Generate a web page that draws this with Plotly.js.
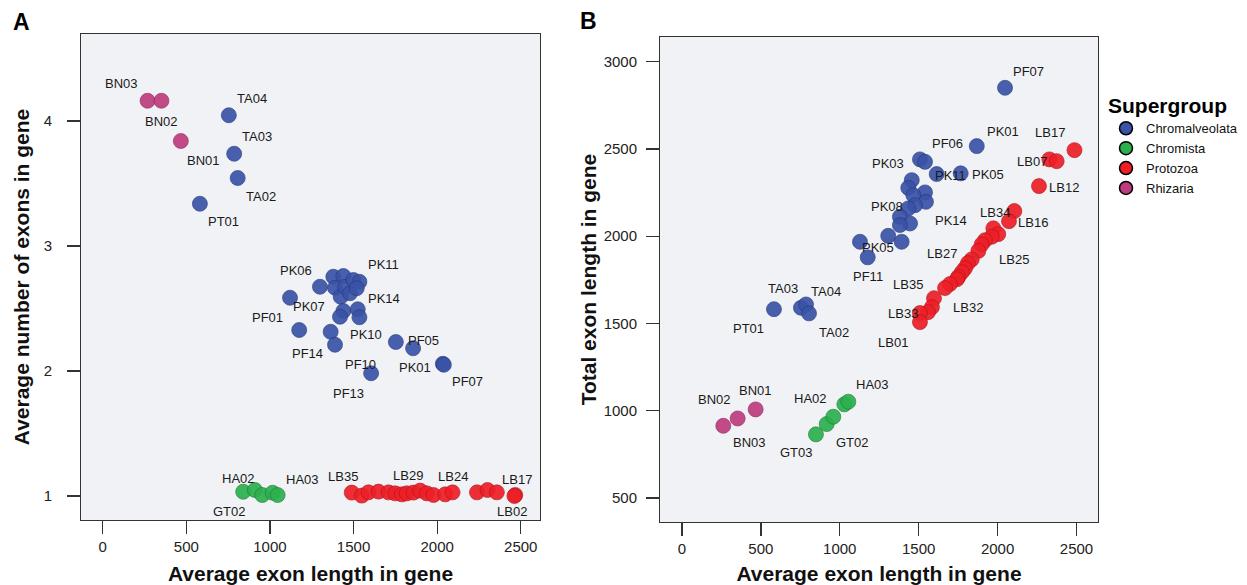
<!DOCTYPE html>
<html>
<head>
<meta charset="utf-8">
<script src="https://cdn.plot.ly/plotly-3.0.1.min.js"></script>
<style>html,body{margin:0;padding:0;background:#fff;}#chart{width:1247px;height:585px;}</style>
</head>
<body>
<div id="chart"></div>
<script>
// ---------------- DATA ----------------
var groups = ["Chromalveolata", "Chromista", "Protozoa", "Rhizaria"];
var xTickVals = [0, 500, 1000, 1500, 2000, 2500];
var yTickValsA = [1, 2, 3, 4];
var yTickValsB = [500, 1000, 1500, 2000, 2500, 3000];

// Panel A: average exon length vs average number of exons
var aChromalveolataX = [754, 786, 807, 581, 1120, 1175, 1299, 1363, 1389, 1379, 1439, 1389, 1423, 1449, 1479, 1499, 1535, 1519, 1439, 1419, 1525, 1535, 1753, 1856, 2034, 2040, 1605];
var aChromalveolataY = [4.046, 3.738, 3.544, 3.338, 2.586, 2.328, 2.674, 2.314, 2.210, 2.754, 2.760, 2.666, 2.594, 2.674, 2.622, 2.728, 2.714, 2.662, 2.480, 2.434, 2.494, 2.430, 2.232, 2.182, 2.058, 2.050, 1.982];
var aChromalveolataNames = ["TA04", "TA03", "TA02", "PT01", "PF01", "PF14", "PK06", "", "", "", "", "PK07", "", "", "", "", "PK11", "", "", "", "PK14", "PK10", "PF10", "PF05", "PK01", "PF07", "PF13"];

var aChromistaX = [840, 910, 954, 1016, 1046];
var aChromistaY = [1.034, 1.048, 1.008, 1.026, 1.008];
var aChromistaNames = ["HA02", "GT02", "", "", "HA03"];

var aProtozoaX = [1489, 1549, 1589, 1649, 1709, 1749, 1789, 1818, 1858, 1898, 1938, 1978, 2048, 2092, 2238, 2301, 2357, 2467, 2462];
var aProtozoaY = [1.027, 1.003, 1.029, 1.035, 1.029, 1.021, 1.013, 1.021, 1.027, 1.043, 1.021, 1.008, 1.013, 1.029, 1.029, 1.048, 1.029, 1.008, 1.000];
var aProtozoaNames = ["LB35", "", "", "", "", "", "", "", "", "LB29", "", "", "", "LB24", "", "", "", "LB17", "LB02"];

var aRhizariaX = [268, 351, 467];
var aRhizariaY = [4.162, 4.162, 3.840];
var aRhizariaNames = ["BN03", "BN02", "BN01"];

// Panel B: average exon length vs total exon length
var bChromalveolataX = [2047, 1868, 1508, 1540, 1614, 1766, 1456, 1434, 1540, 1466, 1546, 1477, 1434, 1381, 1445, 1381, 1307, 1392, 1128, 1177, 583, 754, 786, 805];
var bChromalveolataY = [2850, 2516, 2440, 2426, 2356, 2360, 2321, 2277, 2251, 2235, 2197, 2178, 2159, 2111, 2073, 2064, 2002, 1968, 1968, 1879, 1582, 1590, 1609, 1558];
var bChromalveolataNames = ["PF07", "PK01", "PK03", "PF06", "PK11", "PK05", "", "", "", "", "PK14", "", "PK08", "", "", "", "", "", "PK05", "PF11", "PT01", "TA03", "TA04", "TA02"];

var bChromistaX = [849, 917, 959, 1029, 1054];
var bChromistaY = [865, 924, 966, 1037, 1052];
var bChromistaNames = ["GT03", "GT02", "HA02", "", "HA03"];

var bProtozoaX = [2487, 2328, 2374, 2262, 2106, 2072, 1973, 2004, 1963, 1920, 1899, 1878, 1836, 1812, 1793, 1774, 1751, 1743, 1698, 1667, 1597, 1584, 1559, 1508, 1508];
var bProtozoaY = [2493, 2440, 2430, 2287, 2144, 2086, 2045, 2012, 1997, 1977, 1953, 1916, 1867, 1846, 1816, 1794, 1767, 1754, 1726, 1703, 1645, 1594, 1565, 1560, 1508];
var bProtozoaNames = ["LB17", "LB07", "", "LB12", "LB34", "LB16", "", "", "LB25", "", "", "", "", "", "LB27", "", "", "", "", "LB32", "LB35", "", "", "LB33", "LB01"];

var bRhizariaX = [262, 353, 467];
var bRhizariaY = [914, 956, 1008];
var bRhizariaNames = ["BN02", "BN03", "BN01"];

// ---------------- STYLE ----------------
var FONT = "Liberation Sans, Arial, Helvetica, sans-serif";
var colors = {
  Chromalveolata: "rgb(57,83,166)",
  Chromista: "rgb(44,176,78)",
  Protozoa: "rgb(237,30,38)",
  Rhizaria: "rgb(189,60,126)"
};
var edgeColors = {
  Chromalveolata: "rgb(38,58,125)",
  Chromista: "rgb(30,125,55)",
  Protozoa: "rgb(180,20,28)",
  Rhizaria: "rgb(140,40,92)"
};
// label offsets in pixels [dx, dy] (dy positive = downwards)
var labelOffsetsA = {
  Chromalveolata: {TA04:[23,-17], TA03:[23,-17], TA02:[23,18], PT01:[24,18], PF01:[-23,20], PF14:[8,23], PK06:[-24,-16], PK07:[-26,19], PK11:[24,-17], PK14:[26,-11], PK10:[7,17], PF10:[-35,22], PF05:[10,-8], PK01:[-28,4], PF07:[24,17], PF13:[-23,20]},
  Chromista: {HA02:[-5,-13], GT02:[-25,21], HA03:[25,-16]},
  Protozoa: {LB35:[-9,-16], LB29:[-12,-15], LB24:[0,-16], LB17:[2,-16], LB02:[-2,15]},
  Rhizaria: {BN03:[-26,-17], BN02:[0,21], BN01:[23,19]}
};
var labelOffsetsB = {
  Chromalveolata: {PF07:[23,-16], PK01:[26,-15], PK03:[-32,4], PF06:[22,-18], PK11:[14,1], PK05:[27,1], PK14:[25,19], PK08:[-21,-2], PF11:[0,19], PT01:[-25,19], TA03:[-18,-19], TA04:[20,-13], TA02:[25,19]},
  Chromista: {GT03:[-19,18], GT02:[26,18], HA02:[-23,-18], HA03:[24,-17]},
  Protozoa: {LB17:[-24,-18], LB07:[-17,2], LB12:[25,1], LB34:[-19,1], LB16:[24,1], LB25:[22,23], LB27:[-23,-15], LB32:[23,19], LB35:[-26,-14], LB33:[-17,0], LB01:[-27,20]},
  Rhizaria: {BN02:[-9,-26], BN03:[12,24], BN01:[0,-19]}
};
var lowerPK05 = [18, 6];

var panelA = {
  Chromalveolata: [aChromalveolataX, aChromalveolataY, aChromalveolataNames],
  Chromista: [aChromistaX, aChromistaY, aChromistaNames],
  Protozoa: [aProtozoaX, aProtozoaY, aProtozoaNames],
  Rhizaria: [aRhizariaX, aRhizariaY, aRhizariaNames]
};
var panelB = {
  Chromalveolata: [bChromalveolataX, bChromalveolataY, bChromalveolataNames],
  Chromista: [bChromistaX, bChromistaY, bChromistaNames],
  Protozoa: [bProtozoaX, bProtozoaY, bProtozoaNames],
  Rhizaria: [bRhizariaX, bRhizariaY, bRhizariaNames]
};

var traces = [];
var annotations = [];

function addPanel(panel, offsets, xa, ya, isB) {
  groups.forEach(function (g) {
    var d = panel[g];
    traces.push({
      type: "scatter", mode: "markers",
      x: d[0], y: d[1], text: d[2], name: g,
      xaxis: xa, yaxis: ya, showlegend: false,
      hovertemplate: "%{text}<extra>" + g + "</extra>",
      marker: {size: 15, color: colors[g], opacity: 0.92, line: {width: 0.7, color: edgeColors[g]}}
    });
    var seenPK05 = 0;
    d[2].forEach(function (nm, i) {
      if (!nm) return;
      var off = offsets[g][nm];
      if (isB && g === "Chromalveolata" && nm === "PK05") {
        seenPK05++;
        if (seenPK05 === 2) off = lowerPK05;
      }
      if (!off) return;
      annotations.push({
        x: d[0][i], y: d[1][i], xref: xa, yref: ya,
        text: nm, showarrow: false,
        xanchor: "center", yanchor: "middle",
        xshift: off[0], yshift: -off[1],
        font: {family: FONT, size: 13, color: "#1a1a1a"}
      });
    });
  });
}
addPanel(panelA, labelOffsetsA, "x", "y", false);
addPanel(panelB, labelOffsetsB, "x2", "y2", true);

// legend entries
groups.forEach(function (g) {
  traces.push({
    type: "scatter", mode: "markers", x: [null], y: [null], name: g,
    xaxis: "x2", yaxis: "y2", showlegend: true, hoverinfo: "skip",
    marker: {size: 13, color: colors[g], line: {width: 1.5, color: "#000"}}
  });
});

// panel letters
annotations.push({text: "A", xref: "paper", yref: "paper", x: 21 / 1247, y: 1 - 22 / 585, showarrow: false,
  xanchor: "center", yanchor: "middle", font: {family: FONT, size: 23, weight: "bold", color: "#000"}});
annotations.push({text: "B", xref: "paper", yref: "paper", x: 588 / 1247, y: 1 - 21 / 585, showarrow: false,
  xanchor: "center", yanchor: "middle", font: {family: FONT, size: 23, weight: "bold", color: "#000"}});

function axisBase() {
  return {
    showline: true, mirror: true, linecolor: "#333", linewidth: 1,
    ticks: "outside", ticklen: 13, tickwidth: 1.3, tickcolor: "#333",
    showgrid: false, zeroline: false,
    tickfont: {family: FONT, size: 15, color: "#222"}
  };
}
var titleFont = {family: FONT, size: 21, weight: "bold", color: "#111"};

var xA = axisBase();
Object.assign(xA, {domain: [81 / 1247, 540 / 1247], range: [-130, 2615], tickvals: xTickVals, anchor: "y",
  title: {text: "Average exon length in gene", font: titleFont, standoff: 12}});
var yA = axisBase();
Object.assign(yA, {domain: [(585 - 520) / 585, (585 - 34) / 585], range: [0.808, 4.696], tickvals: yTickValsA, anchor: "x",
  ticklabelstandoff: 12,
  title: {text: "Average number of exons in gene", font: titleFont, standoff: 8}});
var xB = axisBase();
Object.assign(xB, {domain: [660 / 1247, 1098 / 1247], range: [-139, 2636], tickvals: xTickVals, anchor: "y2",
  title: {text: "Average exon length in gene", font: titleFont, standoff: 12}});
var yB = axisBase();
Object.assign(yB, {domain: [(585 - 522) / 585, (585 - 37) / 585], range: [363, 3141], tickvals: yTickValsB, anchor: "x2",
  ticklabelstandoff: 6,
  title: {text: "Total exon length in gene", font: titleFont, standoff: 1}});

var layout = {
  width: 1247, height: 585,
  margin: {l: 0, r: 0, t: 0, b: 0},
  paper_bgcolor: "#ffffff",
  plot_bgcolor: "rgb(241,242,245)",
  font: {family: FONT, color: "#111"},
  xaxis: xA, yaxis: yA, xaxis2: xB, yaxis2: yB,
  showlegend: true,
  legend: {
    x: 1106 / 1247, y: 1 - 86 / 585, xanchor: "left", yanchor: "top",
    bgcolor: "rgba(0,0,0,0)", borderwidth: 0,
    title: {text: "Supergroup", font: {family: FONT, size: 21, weight: "bold", color: "#000"}},
    font: {family: FONT, size: 13, color: "#111"},
    itemsizing: "trace", tracegroupgap: 0
  },
  annotations: annotations
};

Plotly.newPlot("chart", traces, layout, {displayModeBar: false, staticPlot: true});
</script>
</body>
</html>
